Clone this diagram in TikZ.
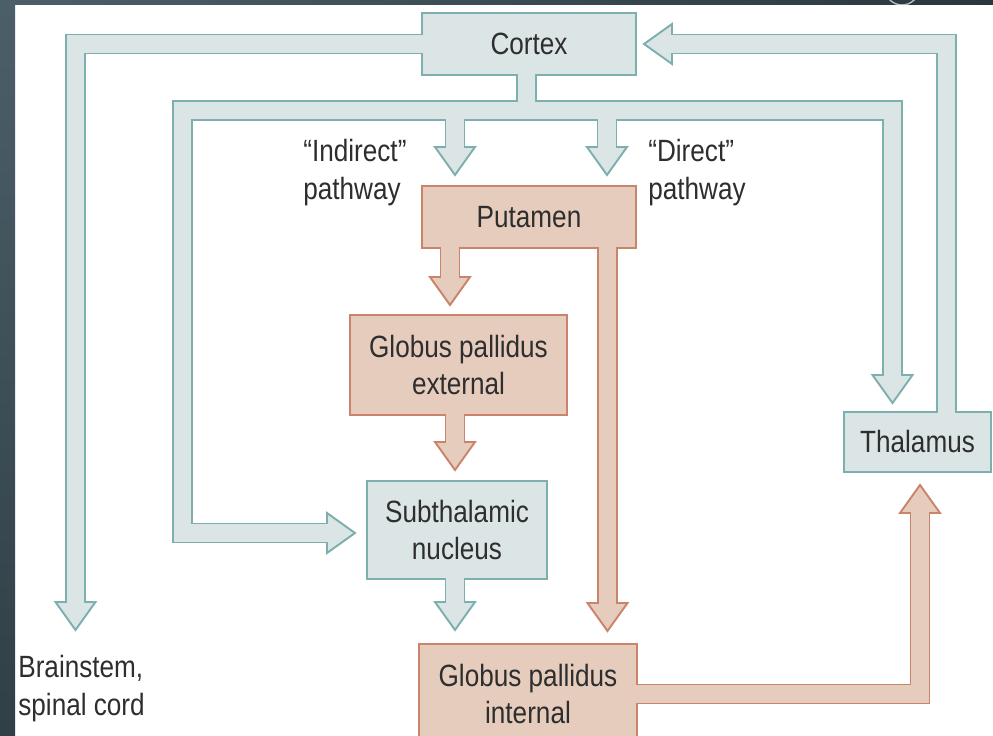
\documentclass[tikz,border=0pt]{standalone}
\usepackage{fontspec}
\setmainfont{Liberation Sans}[FakeStretch=0.85]
\usepackage{xcolor}
\usepackage{tikz}
\usetikzlibrary{calc}

\definecolor{bfill}{HTML}{DCE5E5}
\definecolor{bline}{HTML}{7EAFAF}
\definecolor{sfill}{HTML}{E6CCBC}
\definecolor{sline}{HTML}{C9846B}
\definecolor{txt}{HTML}{2E2E2E}
\definecolor{slate}{HTML}{4C5F69}
\definecolor{slatedark}{HTML}{2A373D}

% fat arrow head: style, base point, rotation
\newcommand{\tiphead}[3]{%
  \filldraw[#1, shift={(#2)}, rotate=#3] (-20,0) -- (20,0) -- (0,28) -- cycle;}

\begin{document}
\begin{tikzpicture}[
    x=0.02cm, y=-0.02cm,
    every node/.style={font=\fontsize{17.5}{21.5}\selectfont, text=txt},
    box/.style={rectangle, line width=1.1pt, outer sep=0pt, inner sep=2pt, align=center},
    bluebox/.style={box, fill=bfill, draw=bline},
    salbox/.style={box, fill=sfill, draw=sline},
    lbl/.style={align=left, inner sep=0pt, anchor=north west},
    shaft/.style={line width=1.1pt, double distance=0.342cm, line join=miter},
    blueshaft/.style={shaft, draw=bline, double=bfill},
    salshaft/.style={shaft, draw=sline, double=sfill},
    bluehead/.style={fill=bfill, draw=bline, line width=1.1pt, line join=miter},
    salhead/.style={fill=sfill, draw=sline, line width=1.1pt, line join=miter}
]
\useasboundingbox (0,0) rectangle (993,736);
\clip (0,0) rectangle (993,736);

% slide frame
\fill[white] (0,0) rectangle (993,736);
\shade[top color=slate, bottom color=slatedark!80!slate] (0,0) rectangle (15,736);
\shade[left color=slate, right color=slatedark] (0,0) rectangle (993,5);
\begin{scope}
  \clip (0,0) rectangle (993,5);
  \draw[slate!40!white, line width=0.8pt] (902,-12) circle[radius=17];
\end{scope}

% boxes
\node[bluebox, minimum width=4.28cm, minimum height=1.24cm] (cortex) at (529,44) {Cortex};
\node[salbox, minimum width=4.28cm, minimum height=1.24cm] (putamen) at (529,217) {Putamen};
\node[salbox, minimum width=4.34cm, minimum height=2cm] (gpe) at (458.5,365) {Globus pallidus\\external};
\node[bluebox, minimum width=3.6cm, minimum height=1.96cm] (stn) at (457,530) {Subthalamic\\nucleus};
\node[salbox, minimum width=4.36cm, minimum height=2cm] (gpi) at (528,694) {Globus pallidus\\internal};
\node[bluebox, minimum width=2.94cm, minimum height=1.2cm] (thal) at (917.5,442) {Thalamus};

% free labels
\node[lbl] (indirect) at (303,139) {“Indirect”\\pathway};
\node[lbl] (direct) at (648,139) {“Direct”\\pathway};
\node[lbl] (brainstem) at (18,655) {Brainstem,\\spinal cord};

% arrow heads
\coordinate (hBs) at (75.5,602);
\coordinate (hStn) at (327,533);
\coordinate (hInd) at (455,147);
\coordinate (hDir) at (607,147);
\coordinate (hThIn) at (892.5,375);
\coordinate (hCtx) at (672,44);
\coordinate (hGpe) at (450,277);
\coordinate (hStnIn) at (455,442);
\coordinate (hGpiA) at (455,602);
\coordinate (hGpiB) at (607.5,603);
\coordinate (hTh) at (920,513);

\tiphead{bluehead}{hBs}{0}
\tiphead{bluehead}{hStn}{90}
\tiphead{bluehead}{hInd}{0}
\tiphead{bluehead}{hDir}{0}
\tiphead{bluehead}{hThIn}{0}
\tiphead{bluehead}{hCtx}{-90}
\tiphead{salhead}{hGpe}{0}
\tiphead{salhead}{hStnIn}{0}
\tiphead{bluehead}{hGpiA}{0}
\tiphead{salhead}{hGpiB}{0}
\tiphead{salhead}{hTh}{180}

% cortex outputs
\coordinate (barL) at (182.5,110.5);
\coordinate (stem) at ($(cortex.south)+(-2.5,-1)$);
\draw[blueshaft] ($(cortex.west)+(1,0)$) -| ($(hBs)+(0,1)$);
\draw[blueshaft] ($(hStn)+(1,0)$) -| (barL) -| ($(hThIn)+(0,1)$)
    (stem) -- (stem |- barL)
    (hInd |- barL) -- ($(hInd)+(0,1)$)
    (hDir |- barL) -- ($(hDir)+(0,1)$);
\draw[blueshaft] ($(thal.north)+(29,1)$) |- ($(hCtx)+(-1,0)$);

% basal ganglia loop
\draw[salshaft] ($(putamen.south)+(-79,-1)$) -- ($(hGpe)+(0,1)$);
\draw[salshaft] ($(putamen.south)+(78.5,-1)$) -- ($(hGpiB)+(0,1)$);
\draw[salshaft] ($(gpe.south)+(-3.5,-1)$) -- ($(hStnIn)+(0,1)$);
\draw[blueshaft] ($(stn.south)+(-2,-1)$) -- ($(hGpiA)+(0,1)$);
\draw[salshaft] ($(gpi.east)+(-1,0)$) -| ($(hTh)+(0,-1)$);

\end{tikzpicture}
\end{document}
